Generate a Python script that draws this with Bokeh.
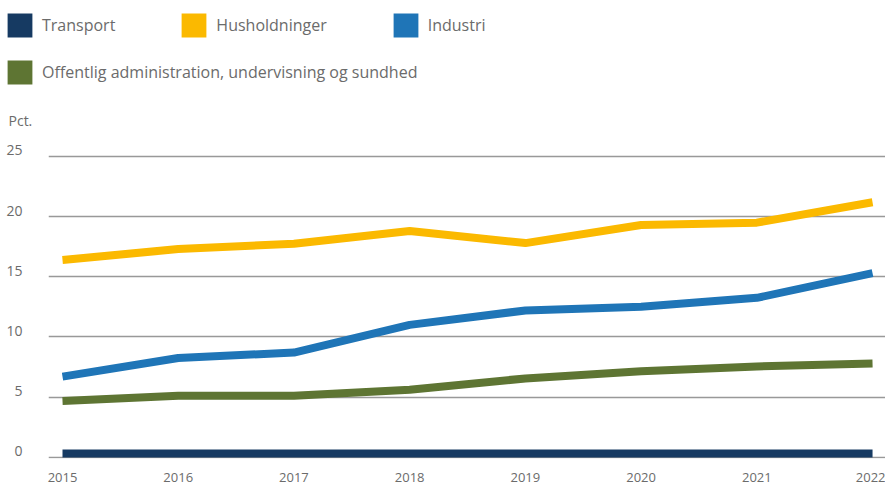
from bokeh.plotting import figure
from bokeh.models import (Range1d, FixedTicker, LinearAxis, Legend, LegendItem,
                          Label, ColumnDataSource)
from bokeh.embed import file_html
from bokeh.resources import INLINE

# ---- data ----
years = [2015, 2016, 2017, 2018, 2019, 2020, 2021, 2022]
transport = [0.3, 0.3, 0.3, 0.3, 0.3, 0.3, 0.3, 0.3]
husholdninger = [16.4, 17.3, 17.75, 18.8, 17.8, 19.3, 19.5, 21.2]
industri = [6.7, 8.25, 8.7, 11.0, 12.2, 12.5, 13.25, 15.3]
offentlig = [4.67, 5.1, 5.1, 5.6, 6.55, 7.15, 7.55, 7.8]
series_names = ["Transport", "Husholdninger", "Industri",
                "Offentlig administration, undervisning og sundhed"]
series_colors = ["#163a62", "#fbb900", "#1f75b7", "#5e7533"]
y_ticks = [0, 5, 10, 15, 20, 25]
y_unit = "Pct."

FONT = "Open Sans"
TXT = "#6b6b6b"
Y0, Y1 = -0.108, 25.83

src = ColumnDataSource(dict(year=years, transport=transport, husholdninger=husholdninger,
                            industri=industri, offentlig=offentlig))
cols = ["transport", "husholdninger", "industri", "offentlig"]

# ---------- legend strip (own root, so its frame spans the full width) ----------
lf = figure(width=885, height=134, output_backend="svg", toolbar_location=None,
            x_range=Range1d(0, 1), y_range=Range1d(0, 1),
            x_axis_location=None, y_axis_location=None,
            min_border_left=0, min_border_right=0, min_border_top=0, min_border_bottom=0)
lf.outline_line_color = None
lf.xgrid.visible = False
lf.ygrid.visible = False

# hidden bar renderers (outside the strip's ranges) only supply the legend swatches
swatches = []
for col, c in zip(cols, series_colors):
    r = lf.vbar(x="year", top=col, width=0.5, source=src, fill_color=c, line_alpha=0)
    swatches.append(r)


def make_legend(items, loc):
    return Legend(items=items, location=loc, orientation="horizontal",
                  padding=0, margin=0, spacing=63, border_line_alpha=0,
                  background_fill_alpha=0, glyph_width=31, glyph_height=30,
                  label_standoff=7, label_text_font=FONT, label_text_font_size="16px",
                  label_text_color=TXT)


lg1 = make_legend([LegendItem(label=series_names[i], renderers=[swatches[i]]) for i in range(3)],
                  (4, 94))
lg2 = make_legend([LegendItem(label=series_names[3], renderers=[swatches[3]])], (4, 47))
lf.add_layout(lg1, "center")
lf.add_layout(lg2, "center")
lf.add_layout(Label(x=8, y=14, x_units="screen", y_units="screen", text=y_unit,
                    text_baseline="middle", text_font=FONT, text_font_size="14px",
                    text_color=TXT))

# ---------- chart ----------
p = figure(width=885, height=352, output_backend="svg", toolbar_location=None,
           x_range=Range1d(2014.879, 2022.112), y_range=Range1d(Y0, Y1),
           y_axis_location=None, min_border_left=48, min_border_right=0,
           min_border_top=12, min_border_bottom=28)
p.outline_line_color = None

for col, c in zip(cols, series_colors):
    p.line("year", col, source=src, line_color=c, line_width=8, line_join="round")

p.xgrid.visible = False
p.ygrid.ticker = FixedTicker(ticks=y_ticks)
p.ygrid.grid_line_color = "#999999"
p.ygrid.grid_line_width = 1.5

xa = p.xaxis[0]
xa.ticker = FixedTicker(ticks=years)
xa.axis_line_color = None
xa.major_tick_line_color = None
xa.minor_tick_line_color = None
xa.major_label_text_font = FONT
xa.major_label_text_font_size = "13px"
xa.major_label_text_color = TXT
xa.major_label_standoff = 8

# y axis labels sit slightly above their gridlines
p.extra_y_ranges = {"lab": Range1d(Y0 - 0.5, Y1 - 0.5)}
ya = LinearAxis(y_range_name="lab", ticker=FixedTicker(ticks=y_ticks))
ya.axis_line_color = None
ya.major_tick_line_color = None
ya.minor_tick_line_color = None
ya.major_label_text_font = FONT
ya.major_label_text_font_size = "14px"
ya.major_label_text_color = TXT
ya.major_label_standoff = 20
p.add_layout(ya, "left")

open("out.html", "w").write(file_html([lf, p], INLINE))
